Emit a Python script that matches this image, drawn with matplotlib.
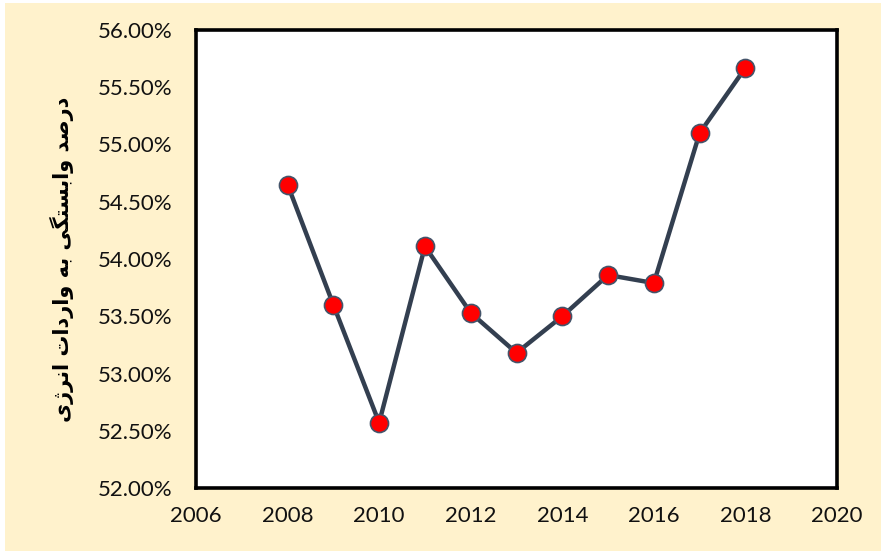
import matplotlib.pyplot as plt
from matplotlib.patches import Rectangle
from matplotlib.ticker import FuncFormatter

# data
years = [2008, 2009, 2010, 2011, 2012, 2013, 2014, 2015, 2016, 2017, 2018]
share = [54.65, 53.60, 52.57, 54.11, 53.53, 53.18, 53.50, 53.86, 53.79, 55.10, 55.67]
x_ticks = [2006, 2008, 2010, 2012, 2014, 2016, 2018, 2020]
y_ticks = [52.0, 52.5, 53.0, 53.5, 54.0, 54.5, 55.0, 55.5, 56.0]

# persian label, pre-shaped (presentation forms) in logical order, then reversed for display
words = [
    "\uFEA9\uFEAD\uFEBB\uFEAA",                     # درصد
    "\uFEED\uFE8D\uFE91\uFEB4\uFE98\uFB95\uFEF0",   # وابستگی
    "\uFE91\uFEEA",                                 # به
    "\uFEED\uFE8D\uFEAD\uFEA9\uFE8D\uFE95",         # واردات
    "\uFE8D\uFEE7\uFEAE\uFB8A\uFEEF",               # انرژی
]
ylab = " ".join(words)[::-1]

fig = plt.figure(figsize=(8.81, 5.51), dpi=100, facecolor='white')
fig.patches.append(Rectangle((5/881, 0), 1, 548/551, transform=fig.transFigure,
                             facecolor='#FFF2CC', edgecolor='none', zorder=-10))
ax = fig.add_axes([196/881, 63/551, 641/881, 458/551])
ax.set_facecolor('white')

ax.plot(years, share, color='#333F50', lw=3.2, marker='o', ms=13,
        mfc='#FF0000', mec='#44546A', mew=1.2, zorder=3)

ax.set_xlim(2006, 2020)
ax.set_ylim(52, 56)
ax.set_xticks(x_ticks)
ax.set_yticks(y_ticks)
ax.yaxis.set_major_formatter(FuncFormatter(lambda v, p: '%.2f%%' % v))
ax.tick_params(length=0, labelsize=16, pad=17)
ax.tick_params(axis='x', pad=13)
for t in ax.get_xticklabels() + ax.get_yticklabels():
    t.set_family('Lato')
    t.set_color('#111111')
for s in ax.spines.values():
    s.set_linewidth(2.6)
    s.set_color('black')

ax.set_ylabel(ylab, family=['DejaVu Sans'], fontweight='bold', fontsize=15, labelpad=17)

plt.savefig('out.png', dpi=100, facecolor=fig.get_facecolor())
